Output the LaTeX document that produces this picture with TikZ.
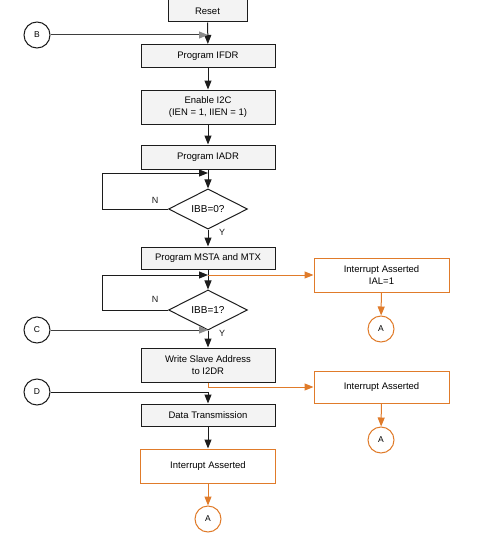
\documentclass[tikz,border=0pt]{standalone}
\usepackage{fontspec}
\setmainfont{Liberation Sans}
\usepackage{tikz}
\usetikzlibrary{arrows.meta,shapes.geometric}
\definecolor{ink}{HTML}{1C1C1C}
\definecolor{warn}{HTML}{E07B2A}
\definecolor{pale}{HTML}{F3F3F3}
\definecolor{fade}{HTML}{8C8C8C}
\tikzset{
  proc/.style   ={draw=ink,line width=1pt,fill=pale,minimum width=134pt,
                  inner sep=2pt,align=center,font=\fontsize{9.5}{11.5}\selectfont},
  irq/.style    ={draw=warn,line width=1pt,fill=white,minimum width=135pt,
                  inner sep=2pt,align=center,font=\fontsize{9.5}{11.5}\selectfont},
  test/.style   ={diamond,draw=ink,line width=1pt,fill=white,minimum width=79pt,
                  minimum height=33pt,inner sep=0pt,font=\fontsize{10}{12}\selectfont},
  conn/.style   ={circle,draw=ink,line width=1pt,fill=white,minimum size=26pt,
                  inner sep=0pt,font=\fontsize{8.5}{10}\selectfont},
  warnconn/.style={conn,draw=warn},
  flow/.style   ={-{Triangle[length=9pt,width=7pt]},line width=1pt,draw=ink},
  joinflow/.style={-{Triangle[length=9pt,width=7pt,color=fade]},line width=1pt,draw=ink!85},
  warnflow/.style={-{Triangle[length=9pt,width=7pt]},line width=1pt,draw=warn},
  tag/.style    ={font=\fontsize{9}{10}\selectfont,text=ink}
}
\begin{document}
\begin{tikzpicture}[x=1pt,y=-1pt]
  \useasboundingbox (0,0) rectangle (500,543);
  \node[proc,minimum width=79pt,minimum height=22pt] (reset) at (207.5,11) {Reset};
  \node[proc,minimum height=23pt] (ifdr) at (208,56) {Program IFDR};
  \node[proc,minimum height=34pt] (i2c) at (208,107) {Enable I2C\\(IEN = 1, IIEN = 1)};
  \node[proc,minimum height=24pt] (iadr) at (208,157) {Program IADR};
  \node[test] (bbfree) at (208,209) {IBB=0?};
  \node[proc,minimum height=22pt] (msta) at (208,258) {Program MSTA and MTX};
  \node[test] (bbset) at (208,310) {IBB=1?};
  \node[proc,minimum height=34pt] (slave) at (208,365) {Write Slave Address\\to I2DR};
  \node[proc,minimum height=22pt] (data) at (208,415) {Data Transmission};
  \node[irq,minimum height=34pt] (irqend) at (208,466) {Interrupt Asserted};
  \node[warnconn] (aend) at (208,519) {A};
  \node[irq,minimum height=34pt] (irqal) at (381.5,275) {Interrupt Asserted\\IAL=1};
  \node[warnconn] (aal) at (381,329) {A};
  \node[irq,minimum height=32pt] (irqaddr) at (381.5,387) {Interrupt Asserted};
  \node[warnconn] (aaddr) at (381,440) {A};
  \node[conn] (b) at (37,35) {B};
  \node[conn] (c) at (37,330) {C};
  \node[conn] (d) at (37,392) {D};
  \coordinate (bjoin) at (208,35);
  \coordinate (cjoin) at (208,330);
  \coordinate (loopa) at (102,173);
  \coordinate (joina) at (208,173);
  \coordinate (loopb) at (102,275);
  \coordinate (joinb) at (208,275);

  \draw[flow] (reset) -- (ifdr);
  \draw[joinflow] (b) -- (bjoin);
  \draw[flow] (ifdr) -- (i2c);
  \draw[flow] (i2c) -- (iadr);
  \draw[flow] (iadr) -- (bbfree);
  \draw[flow] (bbfree.west) -| (loopa) -- (joina);
  \draw[flow] (bbfree) -- (msta);
  \draw[flow] (msta) -- (bbset);
  \draw[flow] (bbset.west) -| (loopb) -- (joinb);
  \draw[warnflow] (joinb) -- (irqal);
  \draw[warnflow] (irqal) -- (aal);
  \draw[joinflow] (c) -- (cjoin);
  \draw[flow] (bbset) -- (slave);
  \draw[warnflow] (slave.south) |- (irqaddr.west);
  \draw[warnflow] (irqaddr) -- (aaddr);
  \draw[flow] (d) -| (data.north);
  \draw[flow] (data) -- (irqend);
  \draw[warnflow] (irqend) -- (aend);

  \node[tag] (nfree) at (155,200) {N};
  \node[tag] (yfree) at (222,232) {Y};
  \node[tag] (nset) at (155,299) {N};
  \node[tag] (yset) at (222,333) {Y};
\end{tikzpicture}
\end{document}
